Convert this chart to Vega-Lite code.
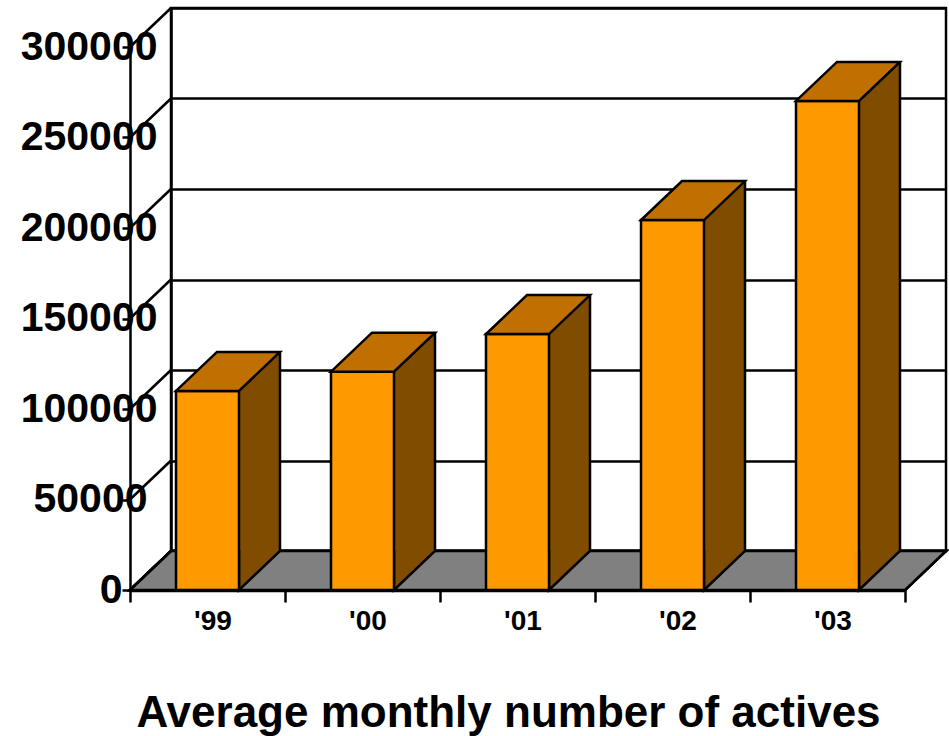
{
  "$schema": "https://vega.github.io/schema/vega-lite/v6.json",
  "width": 775,
  "height": 543,
  "autosize": {"type": "none"},
  "padding": {"left": 171, "top": 8, "right": 3, "bottom": 185},
  "background": "white",
  "config": {"view": {"stroke": "black", "strokeWidth": 2.5}, "font": "Liberation Sans"},
  "title": {"text": "Average monthly number of actives", "orient": "bottom", "anchor": "middle", "fontSize": 44, "fontWeight": "bold", "font": "Liberation Sans", "color": "black", "offset": 57, "dx": -50},
  "datasets": {
    "bars": [
      {"year": "'99", "value": 110000},
      {"year": "'00", "value": 120600},
      {"year": "'01", "value": 141400},
      {"year": "'02", "value": 204400},
      {"year": "'03", "value": 270200}
    ],
    "ticks": [
      {"tick": 0}, {"tick": 50000}, {"tick": 100000}, {"tick": 150000}, {"tick": 200000}, {"tick": 250000}, {"tick": 300000}
    ]
  },
  "data": {"name": "bars"},
  "resolve": {"axis": {"x": "independent", "y": "independent"}},
  "layer": [
    {
      "mark": {"type": "point", "shape": "M -387.5 0 L 387.5 0 L 346.5 39 L -428.5 39 Z", "size": 4, "filled": true, "fill": "#808080", "stroke": "black", "strokeWidth": 2.5, "opacity": 1},
      "encoding": {
        "x": {"datum": "'01", "type": "nominal", "axis": null, "scale": {"type": "band", "domain": ["'99", "'00", "'01", "'02", "'03"], "paddingInner": 0, "paddingOuter": 0}},
        "y": {"datum": 0, "type": "quantitative", "axis": null, "scale": {"domain": [0, 300000], "nice": false, "zero": true}}
      }
    },
    {
      "data": {"name": "ticks"},
      "mark": {"type": "point", "shape": "M -77.5 0 L -118.5 39", "size": 4, "filled": false, "stroke": "black", "strokeWidth": 2.5, "opacity": 1},
      "encoding": {
        "x": {"datum": "'99", "type": "nominal", "axis": null},
        "y": {"field": "tick", "type": "quantitative", "axis": null}
      }
    },
    {
      "mark": {"type": "bar", "width": 41, "xOffset": 11, "yOffset": 39, "y2Offset": 0, "fill": "#804C00", "stroke": null},
      "encoding": {
        "x": {"field": "year", "type": "nominal", "sort": null, "axis": null},
        "y": {"field": "value", "type": "quantitative", "axis": {"orient": "left", "grid": true, "gridColor": "black", "gridWidth": 2.5, "gridOpacity": 1, "domain": true, "domainColor": "black", "domainWidth": 2.5, "ticks": false, "labels": false, "title": null, "values": [0, 50000, 100000, 150000, 200000, 250000, 300000]}},
        "y2": {"datum": 0}
      }
    },
    {
      "mark": {"type": "point", "shape": "M -9.5 39 L 31.5 0 L 31.5 40 L -9.5 40 Z", "size": 4, "filled": true, "fill": "#804C00", "strokeWidth": 0, "opacity": 1},
      "encoding": {
        "x": {"field": "year", "type": "nominal", "sort": null, "axis": null},
        "y": {"field": "value", "type": "quantitative", "axis": null}
      }
    },
    {
      "mark": {"type": "point", "shape": "M 31.5 -1 L 31.5 0 L -9.5 39 L -9.5 -1", "size": 4, "filled": true, "fill": "#804C00", "stroke": "black", "strokeWidth": 2.5, "opacity": 1},
      "encoding": {
        "x": {"field": "year", "type": "nominal", "sort": null, "axis": null},
        "y": {"datum": 0, "type": "quantitative", "axis": null}
      }
    },
    {
      "mark": {"type": "rule", "xOffset": 31.5, "stroke": "black", "strokeWidth": 2.5},
      "encoding": {
        "x": {"field": "year", "type": "nominal", "sort": null, "axis": null},
        "y": {"field": "value", "type": "quantitative", "axis": null},
        "y2": {"datum": 0}
      }
    },
    {
      "mark": {"type": "bar", "width": 63, "xOffset": -41, "yOffset": 39, "y2Offset": 39, "fill": "#FF9900", "stroke": "black", "strokeWidth": 2.5},
      "encoding": {
        "x": {"field": "year", "type": "nominal", "sort": null, "axis": {"orient": "bottom", "position": -41, "offset": 39, "domain": true, "domainColor": "black", "domainWidth": 3.5, "ticks": true, "tickSize": 12, "tickWidth": 2.5, "tickColor": "black", "tickBand": "extent", "labelFont": "Liberation Sans", "labelFontSize": 28, "labelFontWeight": "bold", "labelColor": "black", "labelPadding": 5, "labelOffset": 5, "labelAngle": 0, "title": null, "grid": false}},
        "y": {"field": "value", "type": "quantitative", "axis": {"orient": "left", "position": 39, "offset": 41, "grid": false, "domain": true, "domainColor": "black", "domainWidth": 2.5, "ticks": true, "tickSize": 8, "tickWidth": 2.5, "tickColor": "black", "format": "d", "labelFont": "Liberation Sans", "labelFontSize": 41, "labelFontWeight": "bold", "labelColor": "black", "labelPadding": {"condition": [{"test": "datum.value == 0", "value": 0}, {"test": "datum.value == 50000", "value": -25}], "value": -35}, "labelOverlap": false, "labelFlush": false, "labelBound": false, "title": null, "values": [0, 50000, 100000, 150000, 200000, 250000, 300000]}},
        "y2": {"datum": 0}
      }
    },
    {
      "mark": {"type": "point", "shape": "M -72.5 39 L -9.5 39 L 31.5 0 L -31.5 0 Z", "size": 4, "filled": true, "fill": "#C07000", "stroke": "black", "strokeWidth": 2.5, "opacity": 1},
      "encoding": {
        "x": {"field": "year", "type": "nominal", "sort": null, "axis": null},
        "y": {"field": "value", "type": "quantitative", "axis": null}
      }
    }
  ]
}
